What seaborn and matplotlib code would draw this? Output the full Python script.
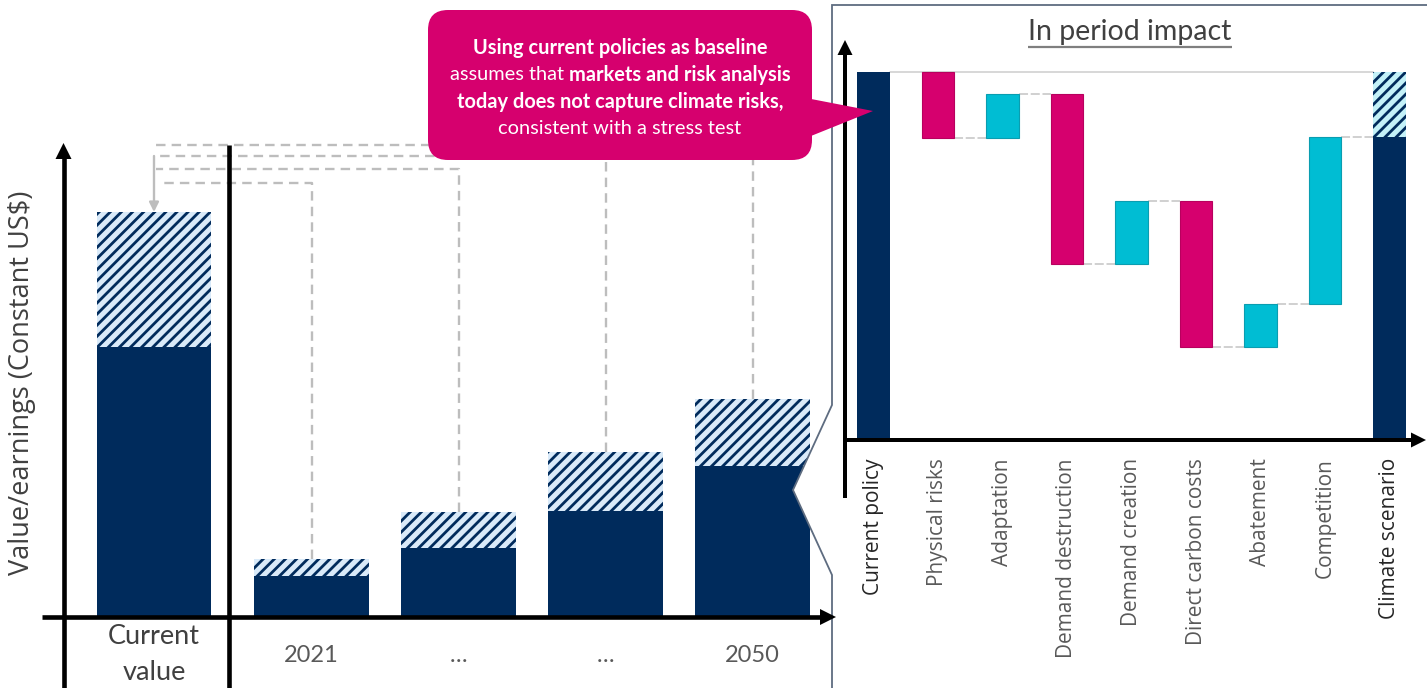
import numpy as np
import pandas as pd
import matplotlib
matplotlib.use("Agg")
import matplotlib.pyplot as plt
import seaborn as sns
from matplotlib.patches import FancyBboxPatch, Polygon

# ------------------------------------------------------------------ data
current_category = ["Current value"]
current_tick_label = ["Current\nvalue"]
current_total = [4.05]          # value under current policy (hatched part on top)
current_climate = [2.70]        # value under climate scenario (solid part)

period_keys = ["2021", "mid_1", "mid_2", "2050"]
period_tick_labels = ["2021", "…", "…", "2050"]
period_total = [0.58, 1.05, 1.65, 2.18]
period_climate = [0.41, 0.69, 1.06, 1.51]

wf_categories = ["Current policy", "Physical risks", "Adaptation",
                 "Demand destruction", "Demand creation", "Direct carbon costs",
                 "Abatement", "Competition", "Climate scenario"]
wf_start = 10.0
wf_changes = [-1.79, 1.20, -4.62, 1.71, -3.97, 1.17, 4.54]

y_label = "Value/earnings (Constant US$)"
panel_title = "In period impact"
callout_lines = [
    [("Using current policies as baseline", "bold")],
    [("assumes that ", "normal"), ("markets and risk analysis", "bold")],
    [("today does not capture climate risks,", "bold")],
    [("consistent with a stress test", "normal")],
]

# ------------------------------------------------------------------ style
NAVY = "#002B5C"
MAGENTA = "#D6006E"
MAGENTA_EDGE = "#B8005E"
CYAN = "#00BDD3"
CYAN_EDGE = "#0A9DB0"
HATCH_BG_L = "#D9EAF9"
HATCH_BG_R = "#C3F1F8"
GUIDE = "#BDBDBD"

sns.set_theme(style="white")
plt.rcParams["font.family"] = ["Lato", "DejaVu Sans"]
plt.rcParams["hatch.linewidth"] = 2.0
plt.rcParams["hatch.color"] = NAVY

W, H = 1427, 688
fig = plt.figure(figsize=(W / 100, H / 100), dpi=100)


def px_axes(x0, y0, x1, y1, z=0):
    ax = fig.add_axes([x0 / W, 1 - y1 / H, (x1 - x0) / W, (y1 - y0) / H], zorder=z)
    ax.patch.set_alpha(0)
    return ax


def clean(ax):
    for s in ax.spines.values():
        s.set_visible(False)
    ax.set_yticks([])
    ax.set_xlabel("")
    ax.set_ylabel("")


# ------------------------------------------------------------------ left panel
SLOT_L = 147.0
ax_cur = px_axes(65, 140, 229, 617, z=0)
ax_yrs = px_axes(229, 140, 835, 617, z=0)
left_top = (617 - 140) / 100.0

df_cur = pd.DataFrame({"cat": current_category, "total": current_total,
                       "climate": current_climate})
df_yrs = pd.DataFrame({"cat": period_keys, "total": period_total,
                       "climate": period_climate})

for ax, df in [(ax_cur, df_cur), (ax_yrs, df_yrs)]:
    sns.barplot(data=df, x="cat", y="total", color=HATCH_BG_L, saturation=1,
                edgecolor=NAVY, linewidth=0, hatch="///", width=0.776,
                errorbar=None, ax=ax)
    sns.barplot(data=df, x="cat", y="climate", color=NAVY, saturation=1,
                linewidth=0, width=0.776, errorbar=None, ax=ax)
    clean(ax)
    ax.set_ylim(0, left_top)

ax_cur.set_xlim(-(154 - 65) / SLOT_L, (229 - 154) / SLOT_L)
ax_yrs.set_xlim(-(311.5 - 229) / SLOT_L, 3 + (835 - 752.5) / SLOT_L)

ax_cur.set_xticks([0])
ax_cur.set_xticklabels(current_tick_label, fontsize=19.5, color="#404040",
                       linespacing=1.55)
ax_cur.tick_params(axis="x", length=0, pad=5)
ax_yrs.set_xticks(range(len(period_keys)))
ax_yrs.set_xticklabels(period_tick_labels, fontsize=17, color="#595959")
ax_yrs.tick_params(axis="x", length=0, pad=20)

ax_cur.set_ylabel(y_label, fontsize=19.5, color="#404040", family=["Open Sans", "DejaVu Sans"],
                  va="center")
ax_cur.yaxis.set_label_coords((22 - 65) / 164, (617 - 383) / 477)

# dashed guides from each period bar back to the current value bar
cx = ax_yrs.transData.inverted().transform(ax_cur.transData.transform((0, 0)))[0]
guide_levels = [4.34, 4.48, 4.61, 4.72]
guide_ends = [0.045, 0.012, 0.0, -0.008]
for i in range(len(period_keys)):
    lvl = guide_levels[i]
    ax_yrs.plot([i, i, cx + guide_ends[i]], [period_total[i], lvl, lvl],
                ls=(0, (4, 2.6)), color=GUIDE, lw=1.7, clip_on=False, zorder=0.5)
ax_yrs.annotate("", xy=(cx, current_total[0]), xytext=(cx, guide_levels[2]),
                xycoords="data", textcoords="data", annotation_clip=False,
                arrowprops=dict(arrowstyle="-|>", color=GUIDE, lw=1.7,
                                mutation_scale=14, shrinkA=0, shrinkB=0))

# ------------------------------------------------------------------ right panel frame
panel = px_axes(0, 0, W, H, z=1)
panel.set_xlim(0, W)
panel.set_ylim(H, 0)
panel.axis("off")
frame = [(W + 5, 5), (832, 5), (832, 405), (793, 490), (832, 575), (832, H + 5)]
panel.add_patch(Polygon(frame + [(W + 5, H + 5)], closed=True, facecolor="white",
                        edgecolor="none"))
fx, fy = zip(*frame)
panel.plot(fx, fy, color="#5E6C80", lw=1.3, solid_joinstyle="miter")

# ------------------------------------------------------------------ waterfall
SLOT_R = 64.5
PX_R = 36.8
ax_w = px_axes(845, 42, 1425, 440, z=2)

changes = np.array(wf_changes)
running = wf_start + np.cumsum(changes)
starts = np.r_[wf_start, running[:-1]]
climate_value = running[-1]

steps = pd.DataFrame({"cat": wf_categories[1:-1], "height": np.abs(changes),
                      "bottom": np.minimum(starts, running), "sign": np.sign(changes)})
neg = steps[steps["sign"] < 0]
pos = steps[steps["sign"] > 0]
ends = pd.DataFrame({"cat": [wf_categories[0], wf_categories[-1]],
                     "value": [wf_start, climate_value]})
gap = pd.DataFrame({"cat": [wf_categories[-1]], "height": [wf_start - climate_value]})

BW = 0.5
sns.barplot(data=ends, x="cat", y="value", order=wf_categories, color=NAVY,
            saturation=1, linewidth=0, width=BW, errorbar=None, ax=ax_w, zorder=3)
sns.barplot(data=gap, x="cat", y="height", order=wf_categories, color=HATCH_BG_R,
            saturation=1, edgecolor=NAVY, linewidth=0, hatch="///", width=BW,
            bottom=[climate_value], errorbar=None, ax=ax_w, zorder=3)
sns.barplot(data=neg, x="cat", y="height", order=wf_categories, color=MAGENTA,
            saturation=1, edgecolor=MAGENTA_EDGE, linewidth=0.8, width=BW,
            bottom=neg["bottom"].to_numpy(), errorbar=None, ax=ax_w, zorder=3)
sns.barplot(data=pos, x="cat", y="height", order=wf_categories, color=CYAN,
            saturation=1, edgecolor=CYAN_EDGE, linewidth=0.8, width=BW,
            bottom=pos["bottom"].to_numpy(), errorbar=None, ax=ax_w, zorder=3)
clean(ax_w)

# connectors
n = len(wf_categories)
ax_w.plot([BW / 2, n - 1 - BW / 2], [wf_start, wf_start], color="#D4D4D4", lw=1.3, zorder=1)
for k in range(len(changes)):
    ax_w.plot([k + 1 + BW / 2, k + 2 - BW / 2], [running[k], running[k]],
              color="#CDCDCD", lw=1.3, ls=(0, (5, 1.5)), zorder=1)

ax_w.set_xlim(-(873.5 - 845) / SLOT_R, n - 1 + (1425 - 1389.5) / SLOT_R)
ax_w.set_ylim(0, (440 - 42) / PX_R)
ax_w.set_xticks(range(n))
ax_w.set_xticklabels(wf_categories, rotation=90, fontsize=15,
                     family=["Open Sans", "DejaVu Sans"])
for i, lbl in enumerate(ax_w.get_xticklabels()):
    lbl.set_color("#262626" if i in (0, n - 1) else "#595959")
    lbl.set_verticalalignment("top")
ax_w.tick_params(axis="x", length=0, pad=13)

# ------------------------------------------------------------------ top overlay
top = px_axes(0, 0, W, H, z=3)
top.set_xlim(0, W)
top.set_ylim(H, 0)
top.axis("off")


def arrow(x0, y0, x1, y1, lw_px, head_len, head_half, color="black"):
    dx, dy = x1 - x0, y1 - y0
    L = np.hypot(dx, dy)
    ux, uy = dx / L, dy / L
    bx, by = x1 - ux * head_len, y1 - uy * head_len
    top.plot([x0, bx + ux], [y0, by + uy], color=color, lw=lw_px * 0.72,
             solid_capstyle="butt")
    nx, ny = -uy, ux
    top.add_patch(Polygon([(x1, y1), (bx + nx * head_half, by + ny * head_half),
                           (bx - nx * head_half, by - ny * head_half)],
                          closed=True, facecolor=color, edgecolor="none"))


arrow(63.5, H + 2, 63.5, 143, 4.6, 16, 8)
arrow(42, 617, 836, 617, 4.6, 16, 8)
top.plot([228.5, 228.5], [145, H + 2], color="black", lw=4.6 * 0.72, solid_capstyle="butt")
arrow(845, 498, 845, 40, 4.0, 15, 7.5)
arrow(843, 440, 1426, 440, 4.0, 15, 7.5)

# title of the in-period panel (underlined)
renderer = fig.canvas.get_renderer()
t = top.text(1130, 32, panel_title, ha="center", va="center", fontsize=20.5,
             color="#404040")
bb = t.get_window_extent(renderer)
top.plot([bb.x0, bb.x1], [47, 47], color="#7F7F7F", lw=1.6, solid_capstyle="butt")

# callout
top.add_patch(FancyBboxPatch((428, 10), 384, 150,
                             boxstyle="round,pad=0,rounding_size=20",
                             facecolor=MAGENTA, edgecolor="none", zorder=5))
top.add_patch(Polygon([(806, 98), (873, 111), (806, 138)], closed=True,
                      facecolor=MAGENTA, edgecolor="none", zorder=5))

CALLOUT_FS = 14.4
line_y = [48, 75, 102, 129]


def text_w(s, weight):
    tt = top.text(0, 0, s, fontsize=CALLOUT_FS, fontweight=weight)
    w = tt.get_window_extent(renderer).width
    tt.remove()
    return w


space_w = text_w("a a", "normal") - text_w("aa", "normal")
for y, segs in zip(line_y, callout_lines):
    widths = []
    for s, wgt in segs:
        w = text_w(s.strip(), wgt)
        if s.endswith(" "):
            w += space_w
        widths.append(w)
    x = 620 - sum(widths) / 2
    for (s, wgt), w in zip(segs, widths):
        top.text(x, y, s.strip(), ha="left", va="center", fontsize=CALLOUT_FS,
                 fontweight=wgt, color="white", zorder=6)
        x += w

fig.savefig("out.png", dpi=100)
